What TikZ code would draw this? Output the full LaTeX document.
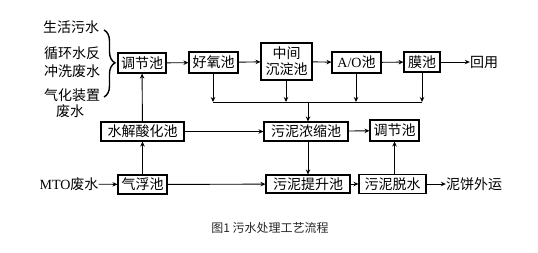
\documentclass[tikz,border=0pt]{standalone}
\usepackage{fontspec}
\setmainfont{Noto Sans CJK SC}
\newfontfamily\lat{Liberation Serif}
\usetikzlibrary{arrows.meta,decorations.pathreplacing}
\begin{document}
\begin{tikzpicture}[x=1pt,y=-1pt,
  box/.style={draw,line width=1.1pt,inner sep=0pt,font=\fontsize{14}{15}\selectfont},
  lbl/.style={inner sep=0pt,font=\fontsize{14}{15}\selectfont},
  arr/.style={line width=0.9pt,-{Stealth[length=5pt,width=4.5pt]}},
  ln/.style={line width=0.9pt}]
\useasboundingbox (0,0) rectangle (538,252);
% boxes
\node[box,minimum width=48,minimum height=20] (t1) at (142,63) {调节池};
\node[box,minimum width=49,minimum height=21] (hy) at (213.5,62.5) {好氧池};
\node[box,minimum width=51,minimum height=37,align=center,font=\fontsize{14}{16}\selectfont] (zj) at (286.5,61.5) {中间\\沉淀池};
\node[box,minimum width=49,minimum height=21] (ao) at (356.5,62.5) {{\lat A/O}池};
\node[box,minimum width=36,minimum height=20] (mc) at (422,62) {膜池};
\node[lbl] (hu) at (484,62) {回用};
\node[box,minimum width=83,minimum height=19] (sj) at (142.5,131.5) {水解酸化池};
\node[box,minimum width=84,minimum height=19] (wn) at (306,131.5) {污泥浓缩池};
\node[box,minimum width=49,minimum height=21] (t2) at (394.5,130.5) {调节池};
\node[box,minimum width=49,minimum height=19] (qf) at (142.5,184.5) {气浮池};
\node[box,minimum width=84,minimum height=18] (ts) at (308,184) {污泥提升池};
\node[box,minimum width=67,minimum height=19] (ws) at (392.5,184) {污泥脱水};
\node[lbl] (nb) at (474,184) {泥饼外运};
\node[lbl] (mto) at (69,184) {{\lat MTO}废水};
% left sources
\node[lbl] (s1) at (71,27) {生活污水};
\node[lbl] (s2) at (72,53) {循环水反};
\node[lbl] (s3) at (72,71) {冲洗废水};
\node[lbl] (s4) at (72,95) {气化装置};
\node[lbl] (s5) at (70,111) {废水};
\coordinate (bt) at (104,30);
\coordinate (bb) at (104,97);
\draw[line width=1.4pt,decorate,decoration={brace,amplitude=11pt,aspect=0.49}] (bt) -- (bb);
% caption
\node[inner sep=0pt,font=\fontsize{12}{13}\selectfont,text=black!85] (cap) at (270,228) {图1 污水处理工艺流程};
% main line
\draw[arr] (t1) -- (hy);
\draw[arr] (hy) -- (zj);
\draw[arr] (zj) -- (ao);
\draw[arr] (ao) -- (mc);
\draw[arr] (mc) -- (hu);
% bus
\coordinate (b1) at (213,102);
\coordinate (b2) at (286,102);
\coordinate (b3) at (356,102);
\coordinate (b4) at (422,102);
\coordinate (bm) at (308,102);
\draw[ln] (b1) -- (b4);
\draw[arr] (hy.south -| b1) -- (b1);
\draw[arr] (zj.south -| b2) -- (b2);
\draw[arr] (ao.south -| b3) -- (b3);
\draw[arr] (mc.south -| b4) -- (b4);
\draw[arr] (bm) -- (bm |- wn.north);
% lower
\draw[arr] (sj) -- (t1);
\draw[arr] (qf) -- (sj);
\draw[arr] (sj) -- (wn);
\draw[arr] (wn) -- (t2);
\draw[arr] (wn.south -| bm) -- (bm |- ts.north);
\draw[arr] (mto) -- (qf);
\draw[arr] (qf) -- (ts);
\draw[arr] (ts) -- (ws);
\draw[arr] (ws) -- (nb);
\draw[arr] (ws.north -| t2) -- (t2);
\end{tikzpicture}
\end{document}
